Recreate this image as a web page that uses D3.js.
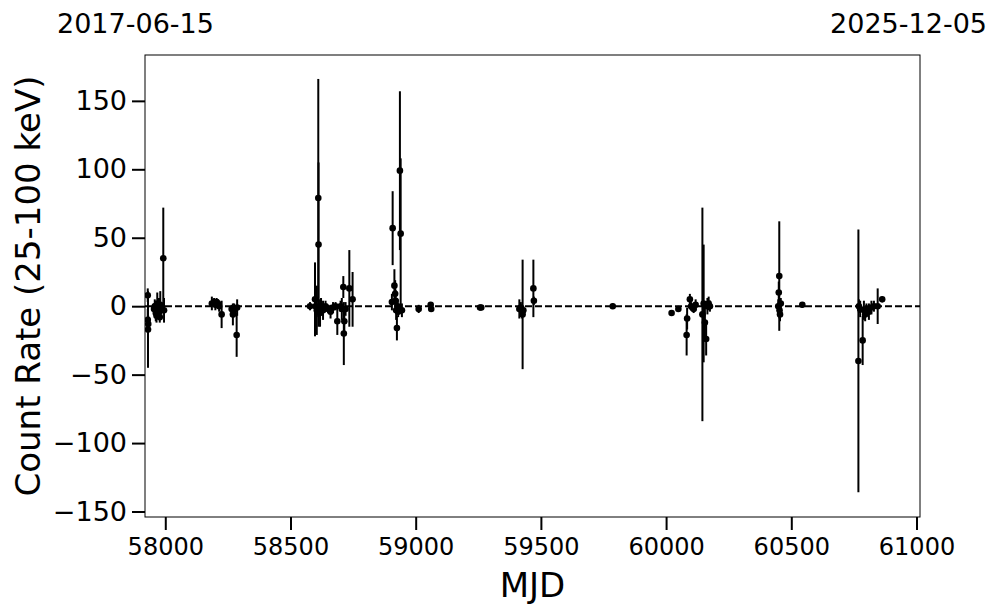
<!DOCTYPE html>
<html>
<head>
<meta charset="utf-8">
<script src="https://cdn.jsdelivr.net/npm/d3@7"></script>
<style>
  body { margin: 0; background: #fff; }
  svg { font-family: "DejaVu Sans", sans-serif; }
</style>
</head>
<body>
<div id="chart"></div>
<script>
// observation epochs (MJD), count rates and 1-sigma errors
var mjd = [
  57930, 57930, 57931, 57932, 57955, 57958, 57962, 57965, 57968, 57970, 57975, 57978, 57980, 57985, 57992, 57995,
  58186, 58195, 58200, 58205, 58210, 58215, 58225, 58265, 58270, 58275, 58285, 58287,
  58578, 58600, 58598, 58605, 58611, 58612, 58618, 58622, 58630, 58640, 58650, 58660, 58670, 58680, 58687, 58700,
  58705, 58711, 58713, 58715, 58720, 58735, 58748,
  58905, 58908, 58915, 58918, 58920, 58922, 58925, 58928, 58930, 58937, 58940, 58945, 59012, 59060, 59062,
  59257, 59262, 59414, 59420, 59425, 59427, 59430, 59470, 59472,
  59787, 60022, 60049, 60082, 60084, 60095, 60100, 60105, 60110, 60118, 60145, 60150, 60155, 60160, 60165, 60170, 60175,
  60448, 60450, 60452, 60453, 60455, 60458, 60544,
  60768, 60770, 60775, 60785, 60790, 60795, 60800, 60810, 60820, 60830, 60845, 60863
];
var rate = [
  8, -10, -17, -13, -2, 0, -5, -7, 2, -3, 0, -8, 1, -2, 35, -3,
  2, 3, 1, 3, 2, 0, -6, -2, -6, -3, -21, -1,
  0, 0, 5, -3, 79, 45, -5, 0, -3, 0, -2, -4, -1, 0, -11, 0,
  -2, 14, -20, -11, -2, 13, 5,
  3, 57, 15, 9, 4, -3, -16, 0, -4, 99, 53, -3, -2, 1, -2,
  -1, -1, -2, -1, -4, -6, -3, 13, 4,
  0, -5, -2, -21, -9, 5, 0, -1, -2, 1, -6, 2, -12, -24, 0, 2, 0,
  0, 10, 22, -3, -6, 2, 1,
  -40, 0, -2, -25, -3, -6, -2, -4, -1, 0, 0, 5
];
var err = [
  5, 8, 28, 6, 4, 5, 6, 5, 8, 5, 6, 4, 10, 4, 37, 9,
  5, 3, 4, 3, 3, 4, 10, 3, 8, 5, 16, 6,
  3, 14, 27, 18, 87, 60, 10, 6, 7, 4, 3, 5, 4, 3, 10, 4,
  8, 8, 23, 10, 5, 28, 20,
  6, 27, 12, 10, 8, 7, 9, 5, 4, 58, 55, 5, 3, 2, 2,
  2, 1, 7, 4, 5, 40, 3, 21, 3,
  2, 2, 2, 15, 8, 4, 3, 2, 3, 4, 78, 43, 12, 12, 6, 5, 4,
  5, 8, 40, 6, 5, 4, 2,
  96, 5, 6, 18, 7, 5, 4, 6, 5, 4, 13, 2
];
var xTicks = [58000, 58500, 59000, 59500, 60000, 60500, 61000];
var yTicks = [-150, -100, -50, 0, 50, 100, 150];
var startLabel = "2017-06-15",
    endLabel = "2025-12-05";

var width = 997,
    height = 613;
var margin = { top: 55, right: 77, bottom: 96, left: 145 };
var plotW = width - margin.left - margin.right,
    plotH = height - margin.top - margin.bottom;

var points = mjd.map(function(m, i) {
  return { mjd: m, rate: rate[i], err: err[i] };
});

var x = d3.scaleLinear().domain([57919, 61014]).range([0, plotW]);
var y = d3.scaleLinear().domain([-154, 183.5]).range([plotH, 0]);

var svg = d3.select("#chart")
  .append("svg")
    .attr("width", width)
    .attr("height", height);

var g = svg.append("g")
  .attr("transform", "translate(" + margin.left + "," + margin.top + ")");

g.append("clipPath").attr("id", "clip")
  .append("rect").attr("width", plotW).attr("height", plotH);

var plot = g.append("g").attr("clip-path", "url(#clip)");

// zero line
plot.append("line")
  .attr("x1", 0).attr("x2", plotW)
  .attr("y1", y(0)).attr("y2", y(0))
  .attr("stroke", "#000")
  .attr("stroke-width", 2)
  .attr("stroke-dasharray", "7,3");

// error bars
plot.selectAll("line.err")
  .data(points)
  .enter()
    .append("line")
    .attr("class", "err")
    .attr("x1", function(d) { return x(d.mjd); })
    .attr("x2", function(d) { return x(d.mjd); })
    .attr("y1", function(d) { return y(d.rate - d.err); })
    .attr("y2", function(d) { return y(d.rate + d.err); })
    .attr("stroke", "#000")
    .attr("stroke-width", 2);

plot.selectAll("circle")
  .data(points)
  .enter()
    .append("circle")
    .attr("cx", function(d) { return x(d.mjd); })
    .attr("cy", function(d) { return y(d.rate); })
    .attr("r", 3.3)
    .attr("fill", "#000");

// axes
var xAxis = d3.axisBottom(x).tickValues(xTicks).tickFormat(d3.format("d"))
  .tickSize(13).tickPadding(8);
var yAxis = d3.axisLeft(y).tickValues(yTicks).tickFormat(function(d) {
  return d < 0 ? "\u2212" + Math.abs(d) : d;
}).tickSize(13).tickPadding(5);

var gx = g.append("g")
  .attr("transform", "translate(0," + plotH + ")")
  .call(xAxis);
var gy = g.append("g").call(yAxis);

[gx, gy].forEach(function(ax) {
  ax.select(".domain").remove();
  ax.selectAll(".tick line").attr("stroke-width", 2);
  ax.selectAll(".tick text")
    .attr("font-family", "DejaVu Sans")
    .attr("fill", "#000");
});
gx.selectAll(".tick text").attr("font-size", "24px");
gy.selectAll(".tick text").attr("font-size", "27px");

g.append("rect")
  .attr("width", plotW).attr("height", plotH)
  .attr("fill", "none")
  .attr("stroke", "#000")
  .attr("stroke-width", 1);

svg.append("text")
  .attr("x", margin.left + plotW / 2)
  .attr("y", 597)
  .attr("text-anchor", "middle")
  .attr("font-size", "34px")
  .text("MJD");

svg.append("text")
  .attr("transform", "translate(40," + (margin.top + plotH / 2) + ") rotate(-90)")
  .attr("text-anchor", "middle")
  .attr("font-size", "34px")
  .text("Count Rate (25-100 keV)");

svg.append("text")
  .attr("x", 57)
  .attr("y", 33)
  .attr("font-size", "27px")
  .text(startLabel);

svg.append("text")
  .attr("x", 987)
  .attr("y", 33)
  .attr("text-anchor", "end")
  .attr("font-size", "27px")
  .text(endLabel);
</script>
</body>
</html>
